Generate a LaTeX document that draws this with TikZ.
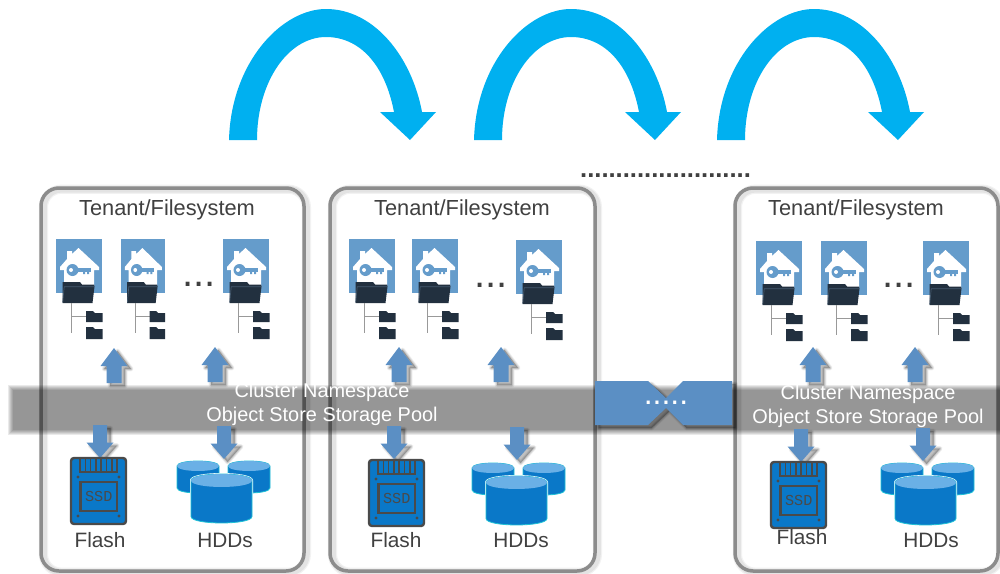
\documentclass[tikz,border=0pt]{standalone}
\usepackage{fontspec}
\setmainfont{Liberation Sans}
\setmonofont{Liberation Mono}
\definecolor{hopblue}{HTML}{00B0F0}
\definecolor{flowblue}{HTML}{5B8FC4}
\definecolor{dirblue}{HTML}{659CCB}
\definecolor{folderdark}{HTML}{22303F}
\definecolor{folderedge}{HTML}{44596E}
\definecolor{diskblue}{HTML}{0A78C8}
\definecolor{disktop}{HTML}{6AB0E6}
\definecolor{diskedge}{HTML}{1FC3D6}
\definecolor{inkgray}{HTML}{404040}
\definecolor{ssdgray}{HTML}{4A4A4A}
\tikzset{
  softshadow/.style={
    preaction={draw=black,fill=black,opacity=.05,line width=2.4pt,line join=round,transform canvas={shift={(1.8pt,-1.5pt)}}},
    preaction={draw=black,fill=black,opacity=.06,line width=1.8pt,line join=round,transform canvas={shift={(1.8pt,-1.5pt)}}},
    preaction={draw=black,fill=black,opacity=.07,line width=1.2pt,line join=round,transform canvas={shift={(1.8pt,-1.5pt)}}},
    preaction={draw=black,fill=black,opacity=.08,line width=.6pt,line join=round,transform canvas={shift={(1.8pt,-1.5pt)}}}},
  panelshadow/.style={
    preaction={draw=black,opacity=.05,line width=4.6pt,transform canvas={shift={(1.2pt,-.6pt)}}},
    preaction={draw=black,opacity=.06,line width=3.4pt,transform canvas={shift={(1.2pt,-.6pt)}}}},
  panelbox/.style={draw=black!45,line width=1.75pt,rounded corners=9pt,panelshadow},
  tenanttext/.style={text=inkgray,font=\fontsize{10.9}{12}\selectfont,inner sep=0pt},
  paneltext/.style={text=inkgray,font=\fontsize{10.4}{12}\selectfont,inner sep=0pt},
  bandtext/.style={text=white,font=\fontsize{9.95}{12}\selectfont,inner sep=0pt},
  pics/homedir/.style={code={
    \fill[dirblue] (0,0) rectangle (46,53.5);
    \fill[white] (22.5,9) -- (16,15) -- (16,12) -- (11,12) -- (11,20) -- (4,28) -- (4,31) -- (8,31)
      -- (8,48) -- (38,48) -- (38,31) -- (43,31) -- (43,28) -- cycle;
    \fill[dirblue] (16.5,31) circle[radius=6];
    \fill[dirblue] (20,29) rectangle (35,33);
    \fill[dirblue] (27,32) rectangle (29,35) (31,32) rectangle (33,35);
    \fill[white] (15,31) circle[radius=2];
    \fill[folderdark] (6.5,64) -- (6.5,43) -- (24,43) -- (26,45.5) -- (38,45.5) -- (38.5,47.5) -- (36.5,64) -- cycle;
    \draw[folderedge,line width=.35pt] (6.7,63.5) -- (8.2,47.8) -- (38.3,47.8);
    \draw[black!40,line width=.4pt] (15,64) -- (15,94) (15,77) -- (30,77);
    \fill[folderdark] (30,72) -- (37,72) -- (39,74) -- (46.5,74) -- (46.5,83) -- (30,83) -- cycle;
    \fill[folderdark] (30,88) -- (37,88) -- (39,90) -- (46.5,90) -- (46.5,100) -- (30,100) -- cycle;
  }},
  pics/upflow/.style={code={
    \fill[flowblue,softshadow] (0,0) -- (13.5,18) -- (7.5,18) -- (7.5,35) -- (-7.5,35) -- (-7.5,18) -- (-13.5,18) -- cycle;
  }},
  pics/downflow/.style={code={
    \fill[flowblue,softshadow] (0,0) -- (13.5,-15.5) -- (7,-15.5) -- (7,-33) -- (-7,-33) -- (-7,-15.5) -- (-13.5,-15.5) -- cycle;
  }},
  pics/ssdcard/.style={code={
    \draw[ssdgray,fill=diskblue,line width=1.2pt,rounded corners=1.5pt] (0,0) rectangle (55,66);
    \draw[ssdgray,line width=.8pt] (9,0) -- (9,14) -- (46,14) -- (46,0);
    \foreach \tooth in {14.3,19.6,24.9,30.2,35.5,40.8}
      \draw[ssdgray,line width=.8pt] (\tooth,0) -- (\tooth,14);
    \draw[ssdgray,line width=1.1pt] (9.5,24) rectangle (46,53);
    \foreach \screw/\row in {7/19,48/19,7/58,48/58}
      \fill[ssdgray] (\screw,\row) circle[radius=1.6];
    \node[text=ssdgray,inner sep=0pt,font=\fontsize{7.6}{8}\selectfont\ttfamily] (-label) at (27.7,38.5) {SSD};
  }},
  pics/disk/.style n args={3}{code={
    \path[fill=diskblue,draw=diskedge,line width=.4pt,preaction={draw=white,line width=1pt}]
      (0,#3) -- (0,#2-#3) .. controls (0,#2+.33*#3) and (#1,#2+.33*#3) .. (#1,#2-#3) -- (#1,#3)
      .. controls (#1,-.33*#3) and (0,-.33*#3) .. (0,#3) -- cycle;
    \fill[disktop] (0,#3) .. controls (0,-.33*#3) and (#1,-.33*#3) .. (#1,#3)
      .. controls (#1,2.33*#3) and (0,2.33*#3) .. (0,#3) -- cycle;
  }},
  pics/diskstack/.style={code={
    \pic at (0,0) {disk={42}{32}{5}};
    \pic at (51,0) {disk={42}{32}{5}};
    \pic at (14,13) {disk={61}{49}{6.5}};
  }},
  pics/hoparrow/.style={code={
    \fill[hopblue] (229,140) .. controls (231,62) and (282,9) .. (326,9) .. controls (375,9) and (412,58) .. (422,112)
      -- (436,112) -- (410,140) -- (380,112) -- (394,112) .. controls (385,65) and (360,37) .. (326,37)
      .. controls (288,37) and (257,82) .. (257,140) -- cycle;
  }}
}
\begin{document}
\begin{tikzpicture}[x=.5pt,y=-.5pt]
\useasboundingbox (0,0) rectangle (1000,573);
\fill[white] (0,0) rectangle (1000,573);

\pic (hopa) at (0,0) {hoparrow};
\pic (hopb) at (245,0) {hoparrow};
\pic (hopc) at (488,0) {hoparrow};
\node[inner sep=0pt,text=inkgray,font=\fontsize{12.8}{14}\selectfont\bfseries] (topdots) at (665.5,176) {........................};

\draw[panelbox] (41,188) rectangle (304,571);
\draw[panelbox] (330,188) rectangle (595,571);
\draw[panelbox] (735,188) rectangle (998,571);

\foreach \grow in {0,1,...,5}
  \fill[black,opacity=.083] (8+\grow,384.5+\grow) rectangle (1005,434.5-\grow);

\node[tenanttext] (tenanta) at (167,210) {Tenant/Filesystem};
\node[tenanttext] (tenantb) at (462,210) {Tenant/Filesystem};
\node[tenanttext] (tenantc) at (856,210) {Tenant/Filesystem};

\begin{scope}
\pic (dira) at (56,239) {homedir};
\pic[xscale=.95] (dirb) at (121,239) {homedir};
\pic (dirc) at (223,239) {homedir};
\node[inner sep=0pt,text=inkgray,font=\fontsize{20}{22}\selectfont] (dotsa) at (199,284) {...};
\pic (upa) at (114,348) {upflow};
\pic (upb) at (215,347) {upflow};
\pic (downa) at (100,458) {downflow};
\pic (downb) at (224,459) {downflow};
\pic (ssda) at (71,458) {ssdcard};
\pic (hdda) at (177,461) {diskstack};
\node[paneltext] (flasha) at (100,540) {Flash};
\node[paneltext] (hdds) at (225,540) {HDDs};
\end{scope}

\begin{scope}
\pic (dird) at (349,239) {homedir};
\pic (dire) at (412,239) {homedir};
\pic (dirf) at (516,240) {homedir};
\node[inner sep=0pt,text=inkgray,font=\fontsize{20}{22}\selectfont] (dotsb) at (491,285) {...};
\pic (upc) at (399,347) {upflow};
\pic (upd) at (501,347) {upflow};
\pic (downc) at (394,459) {downflow};
\pic (downd) at (517,460) {downflow};
\pic (ssdb) at (369,460) {ssdcard};
\pic (hddb) at (472,463) {diskstack};
\node[paneltext] (flashb) at (396,540) {Flash};
\node[paneltext] (hddt) at (521,540) {HDDs};
\end{scope}

\begin{scope}
\pic (dirg) at (756,241) {homedir};
\pic (dirh) at (821,241) {homedir};
\pic (diri) at (923,241) {homedir};
\node[inner sep=0pt,text=inkgray,font=\fontsize{20}{22}\selectfont] (dotsc) at (899,285) {...};
\pic (upe) at (813,347) {upflow};
\pic (upf) at (915,347) {upflow};
\pic (downe) at (801,462) {downflow};
\pic (downf) at (923,461) {downflow};
\pic (ssdc) at (771,462) {ssdcard};
\pic (hddc) at (881,463) {diskstack};
\node[paneltext] (flashc) at (802,537) {Flash};
\node[paneltext] (hddu) at (931,540) {HDDs};
\end{scope}

\fill[flowblue,softshadow] (595,381) -- (648,381) -- (666,398) -- (683,381) -- (732,381) -- (732,425)
  -- (683,425) -- (666,408) -- (648,425) -- (595,425) -- cycle;
\node[inner sep=0pt,text=white,font=\fontsize{16}{18}\selectfont] (linkdots) at (666,403) {.....};

\node[bandtext] (clustera) at (322,392) {Cluster Namespace};
\node[bandtext] (poola) at (322,416) {Object Store Storage Pool};
\node[bandtext] (clusterb) at (868,394) {Cluster Namespace};
\node[bandtext] (poolb) at (868,418) {Object Store Storage Pool};

\end{tikzpicture}
\end{document}
